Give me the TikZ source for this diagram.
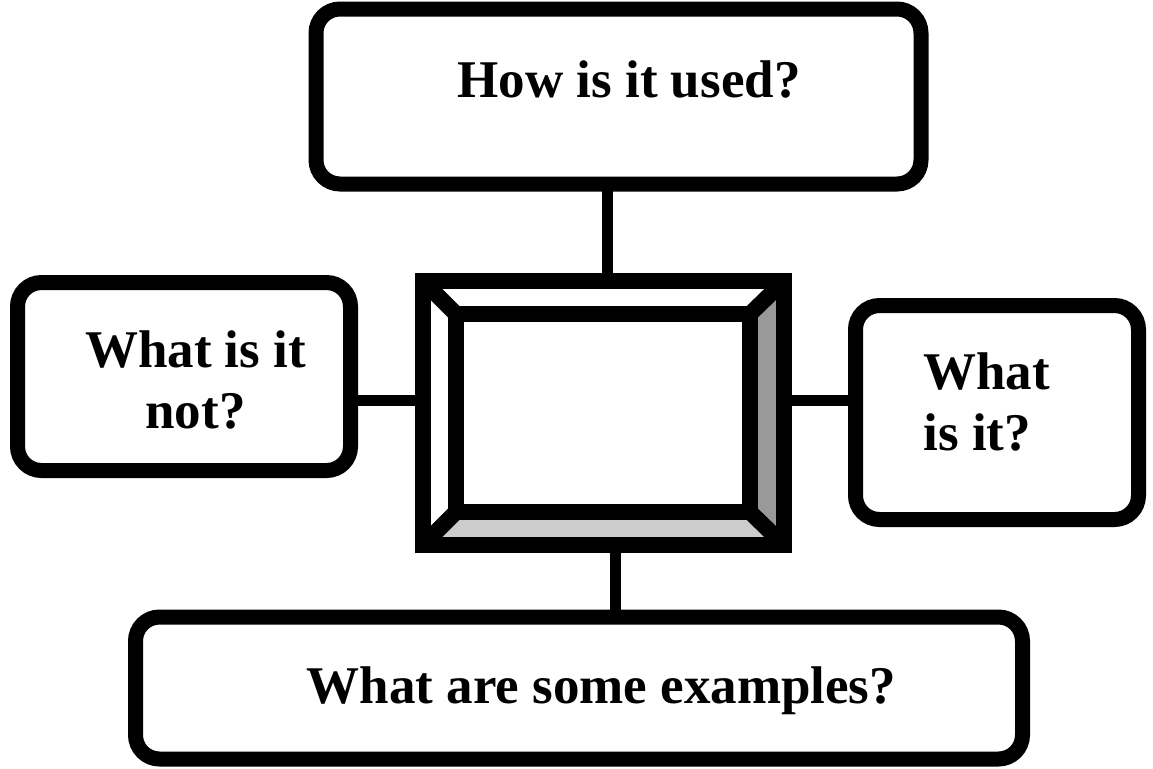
\documentclass[tikz,border=0pt]{standalone}
\usepackage{fontspec}
\setmainfont{Liberation Serif}
\usepackage{tikz}
\usepackage{xcolor}
\usetikzlibrary{positioning,calc}
\definecolor{bevdark}{HTML}{999999}
\definecolor{bevlight}{HTML}{CCCCCC}

\begin{document}
\begin{tikzpicture}[
  x=0.5pt,y=-0.5pt,
  qbox/.style={draw,line width=7.5pt,rounded corners=12pt,outer sep=0pt,
               inner sep=0pt,fill=white},
  qtext/.style={font=\bfseries\fontsize{26.5}{30.5}\selectfont,inner sep=0pt},
  rim/.style={draw,line width=8pt,outer sep=0pt,inner sep=0pt},
  link/.style={line width=5.5pt}
]
\useasboundingbox (0,0) rectangle (1153,768);
% question boxes
\node[qbox,minimum width=302.5pt,minimum height=87.5pt] (used) at (618.5,96.5) {};
\node[qbox,minimum width=166.5pt,minimum height=94pt] (isnot) at (184,376.5) {};
\node[qbox,minimum width=141.5pt,minimum height=107pt] (isit) at (997,412.5) {};
\node[qbox,minimum width=443.5pt,minimum height=71pt] (examples) at (579,688) {};
\node[qtext,anchor=base] at (629,97) {How is it used?};
\node[qtext,anchor=base,align=center] at (195.5,428) {What is it\\not?};
\node[qtext,anchor=base west,align=left] at (923,450) {What\\is it?};
\node[qtext,anchor=base] at (601.5,703) {What are some examples?};
% the frame in the middle
\node[minimum width=180.5pt,minimum height=132pt,outer sep=0pt] (frame) at (603.5,413) {};
\node[minimum width=147pt,minimum height=99pt,outer sep=0pt] (win) at (603,413) {};
\draw[link] ([xshift=2pt]frame.north) -- ([xshift=2pt]frame.north |- used.south);
\draw[link] ([xshift=6pt]frame.south) -- ([xshift=6pt]frame.south |- examples.north);
\draw[link] ([yshift=6.5pt]frame.west) -- ([yshift=6.5pt]frame.west -| isnot.east);
\draw[link] ([yshift=6.5pt]frame.east) -- ([yshift=6.5pt]frame.east -| isit.west);
\fill[white] (frame.north west) -- (frame.north east) -- (win.north east) -- (win.north west) -- cycle;
\fill[white] (frame.north west) -- (frame.south west) -- (win.south west) -- (win.north west) -- cycle;
\fill[bevdark] (frame.north east) -- (frame.south east) -- (win.south east) -- (win.north east) -- cycle;
\fill[bevlight] (frame.south west) -- (frame.south east) -- (win.south east) -- (win.south west) -- cycle;
\foreach \c in {north west,north east,south west,south east}
  \draw[line width=8pt] (frame.\c) -- (win.\c);
\draw[line width=8pt] (frame.north west) rectangle (frame.south east);
\draw[line width=8pt] (win.north west) rectangle (win.south east);
\end{tikzpicture}
\end{document}
